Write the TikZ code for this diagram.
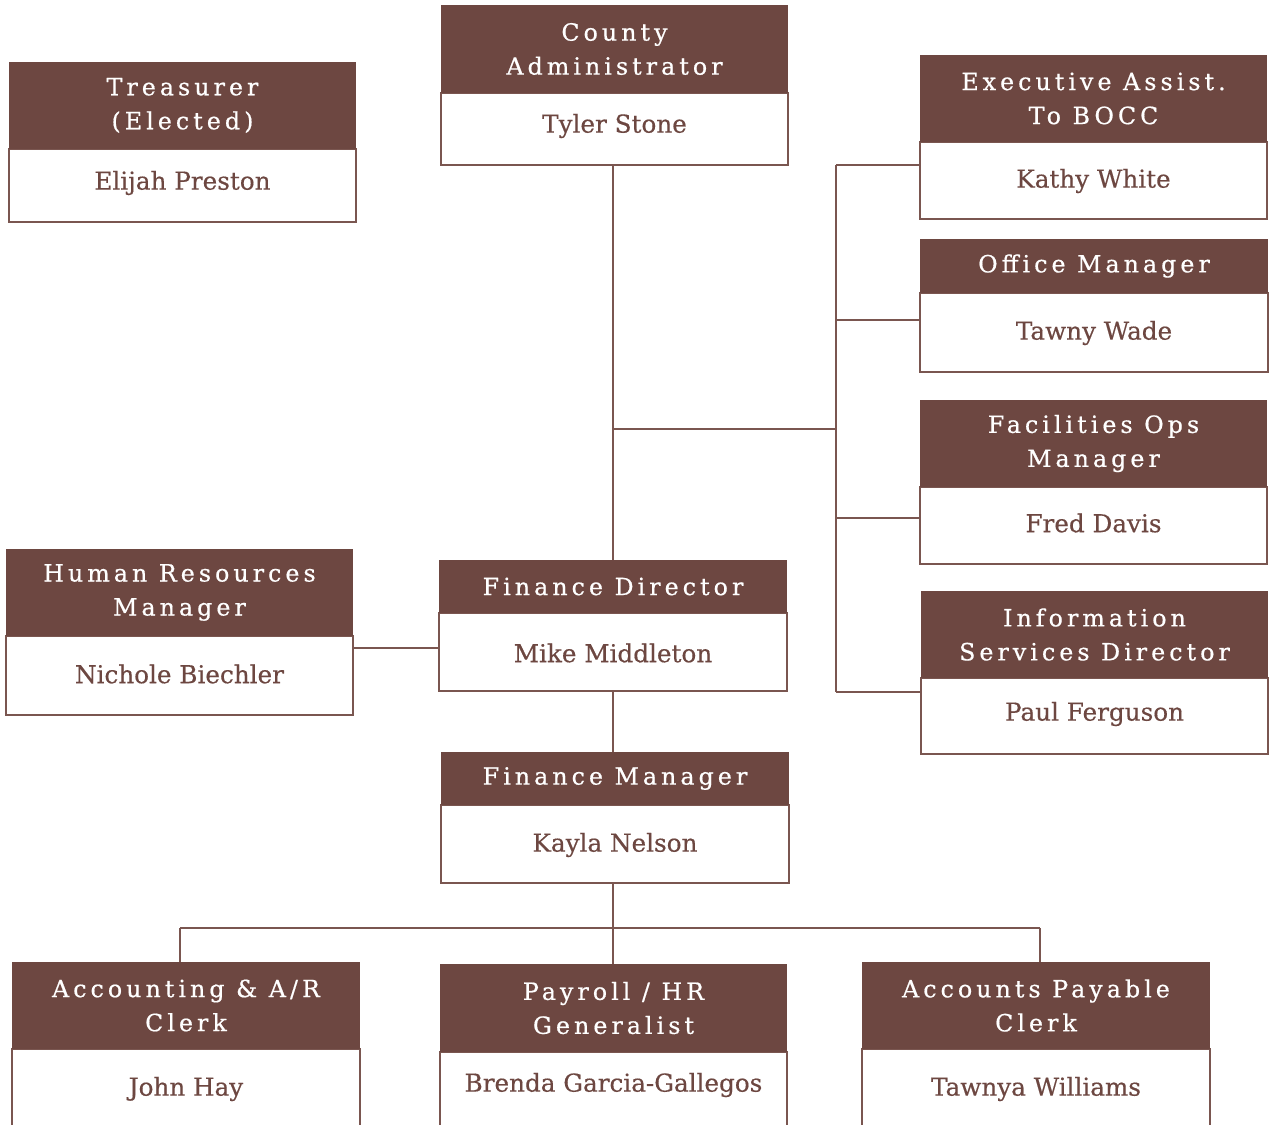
\documentclass[tikz,border=0pt]{standalone}
\usepackage{fontspec}
\setmainfont{DejaVu Serif}
\newfontfamily\hdfont[LetterSpace=17,FakeBold=0.6]{DejaVu Serif}
\newfontfamily\nmfont[FakeBold=0.4]{DejaVu Serif}
\definecolor{brn}{HTML}{6D4741}
\definecolor{brnline}{HTML}{7A5650}
\tikzset{
  hdr/.style={fill=brn, draw=none, inner sep=0pt, text=white, align=center,
    font=\hdfont\fontsize{17.8}{25.5}\selectfont},
  bodybox/.style={fill=white, draw=brnline, line width=0.9pt, inner sep=0pt},
  person/.style={text=brn, inner sep=0pt, font=\nmfont\fontsize{18.5}{20}\selectfont},
  link/.style={draw=brnline, line width=0.9pt},
}
% #1 id, #2 left, #3 right, #4 top, #5 split, #6 bottom, #7 name row, #8 title, #9 person
\newcommand\orgunit[9]{%
  \node[bodybox, minimum width={(#3-#2)*0.75pt}, minimum height={(#6-#5)*0.75pt}]
    (#1) at ({(#2+#3)/2},{(#5+#6)/2}) {};
  \node[hdr, minimum width={(#3-#2)*0.75pt}, minimum height={(#5-#4)*0.75pt}]
    (#1-t) at ({(#2+#3)/2},{(#4+#5)/2}) {#8};
  \node[person] (#1-n) at ({(#2+#3)/2},#7) {#9};
}
\begin{document}
\begin{tikzpicture}[x=0.75pt,y=-0.75pt]
\useasboundingbox (0,0) rectangle (1273,1124);
\clip (0,0) rectangle (1273,1124);

\orgunit{tr}{9}{356}{62}{149}{222}{183}{Treasurer\\(Elected)}{Elijah Preston}
\orgunit{ca}{441}{788}{5}{93}{165}{126}{County\\Administrator}{Tyler Stone}
\orgunit{ea}{920}{1267}{55}{142}{219}{181}{Executive Assist.\\To BOCC}{Kathy White}
\orgunit{om}{920}{1268}{239}{293}{372}{333}{Office Manager}{Tawny Wade}
\orgunit{fo}{920}{1267}{400}{487}{564}{523}{Facilities Ops\\Manager}{Fred Davis}
\orgunit{is}{921}{1268}{591}{678}{754}{714}{Information\\Services Director}{Paul Ferguson}
\orgunit{hr}{6}{353}{549}{636}{715}{674}{Human Resources\\Manager}{Nichole Biechler}
\orgunit{fd}{439}{787}{560}{613}{691}{653}{Finance Director}{Mike Middleton}
\orgunit{fm}{441}{789}{752}{805}{883}{845}{Finance Manager}{Kayla Nelson}
\orgunit{ac}{12}{360}{962}{1049}{1160}{1089}{Accounting \& A/R\\Clerk}{John Hay}
\orgunit{pr}{440}{787}{964}{1052}{1160}{1085}{Payroll / HR\\Generalist}{Brenda Garcia-Gallegos}
\orgunit{ap}{862}{1210}{962}{1049}{1160}{1089}{Accounts Payable\\Clerk}{Tawnya Williams}

% central spine
\coordinate (spine) at (613,0);
\draw[link] (spine |- ca.south) -- (spine |- fd-t.north);
\draw[link] (spine |- fd.south) -- (spine |- fm-t.north);
\draw[link] (spine |- fm.south) -- (spine |- pr-t.north);

% staff bus on the right
\coordinate (busT) at (836,165);
\coordinate (busM) at (836,429);
\coordinate (busB) at (836,692);
\coordinate (b2) at (836,320);
\coordinate (b3) at (836,518);
\draw[link] (busM -| spine) -- (busM);
\draw[link] (busT) -- (busB);
\draw[link] (busT) -- (busT -| ea.west);
\draw[link] (b2) -- (b2 -| om.west);
\draw[link] (b3) -- (b3 -| fo.west);
\draw[link] (busB) -- (busB -| is.west);

% human resources
\coordinate (hrj) at (353,648);
\draw[link] (hrj) -- (hrj -| fd.west);

% clerks
\coordinate (jL) at (180,928);
\coordinate (jR) at (1040,928);
\draw[link] (jL) -- (jR);
\draw[link] (jL) -- (jL |- ac-t.north);
\draw[link] (jR) -- (jR |- ap-t.north);
\end{tikzpicture}
\end{document}
